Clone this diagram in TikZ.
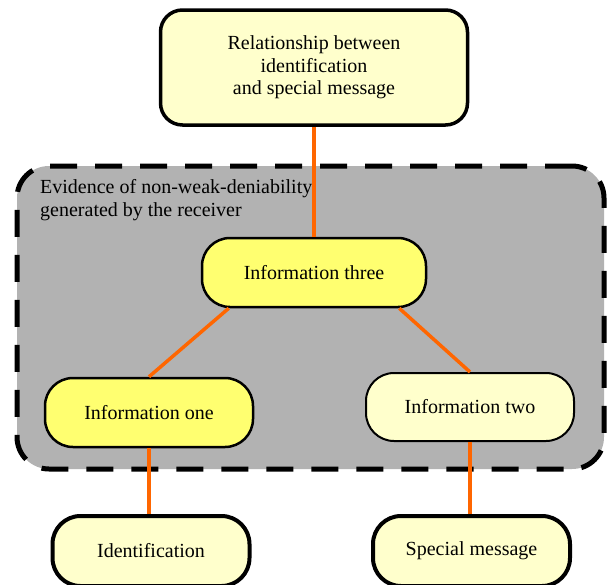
\documentclass[tikz,border=0pt]{standalone}
\usepackage{fontspec}
\setmainfont{Liberation Serif}
\usetikzlibrary{positioning}

\definecolor{paleyellow}{HTML}{FFFFCC}
\definecolor{strongyellow}{HTML}{FFFF70}
\definecolor{linkorange}{HTML}{FF6600}
\definecolor{regiongray}{HTML}{B2B2B2}

\tikzset{
    box/.style={draw, rounded corners=28pt, align=center, inner sep=0pt,
        font=\fontsize{20}{22.5}\selectfont},
    link/.style={draw=linkorange, line width=3.5pt},
}

\begin{document}
\begin{tikzpicture}[x=1pt,y=-1pt]
    \useasboundingbox (0,0) rectangle (608,584);

    % Dashed region
    \node[draw, fill=regiongray, line width=5pt, dash pattern=on 27pt off 18pt,
        rounded corners=32pt, inner sep=0pt,
        minimum width=587pt, minimum height=303pt] (region) at (310.5,317.5) {};
    \node[anchor=north west, align=left, inner sep=0pt,
        font=\fontsize{20}{23}\selectfont] (regionlabel) at (40,179)
        {Evidence of non-weak-deniability\\generated by the receiver};

    % Boxes
    \node[box, fill=paleyellow, line width=3.5pt, rounded corners=22pt,
        minimum width=307pt, minimum height=115pt] (relation) at (314,67.5)
        {Relationship between\\identification\\and special message};
    \node[box, fill=strongyellow, line width=2.5pt,
        minimum width=224pt, minimum height=69pt] (three) at (314,272.5) {Information three};
    \node[box, fill=strongyellow, line width=2.5pt,
        minimum width=208pt, minimum height=69pt] (one) at (149,412.5) {Information one};
    \node[box, fill=paleyellow, line width=2pt,
        minimum width=208pt, minimum height=68pt] (two) at (470,407) {Information two};
    \node[box, fill=paleyellow, line width=4pt,
        minimum width=197pt, minimum height=70pt] (ident) at (151,551) {Identification};
    \node[box, fill=paleyellow, line width=4pt,
        minimum width=197pt, minimum height=70pt] (special) at (471.5,551) {Special message};

    % Links
    \draw[link] (relation) -- (three);
    \draw[link] ([xshift=28pt]three.south west) -- (one.north);
    \draw[link] ([xshift=-28pt]three.south east) -- (two.north);
    \draw[link] (one.south) -- (one.south |- ident.north);
    \draw[link] (two.south) -- (two.south |- special.north);
\end{tikzpicture}
\end{document}
